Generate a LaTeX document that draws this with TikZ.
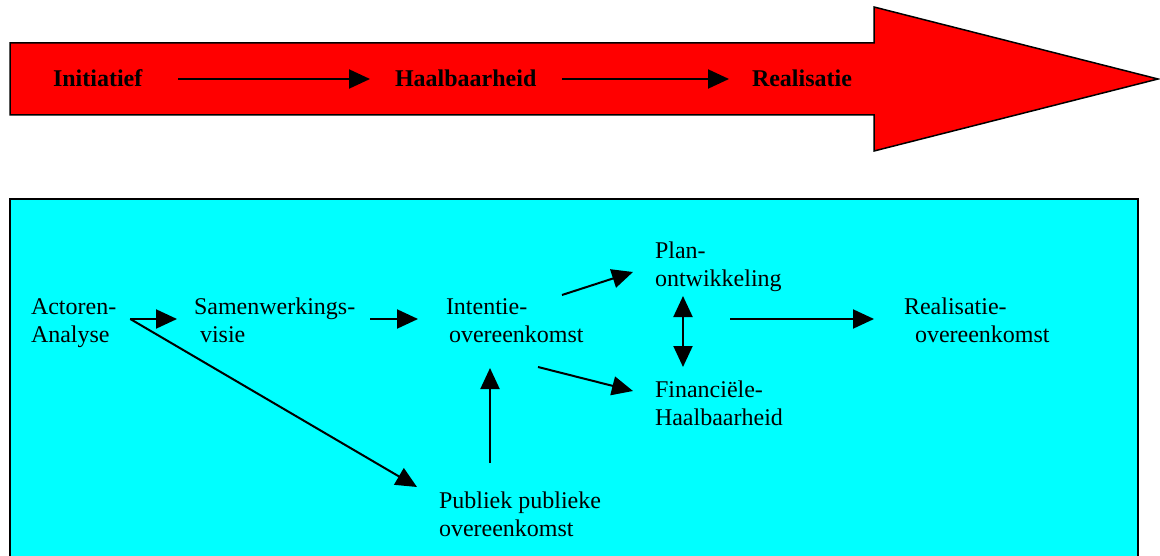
\documentclass[tikz,border=0pt]{standalone}
\usepackage{fontspec}
\setmainfont{Liberation Serif}
\usetikzlibrary{arrows.meta}
\definecolor{bandred}{HTML}{FF0000}
\definecolor{panelcyan}{HTML}{00FFFF}
\begin{document}
\begin{tikzpicture}[x=1pt,y=-1pt,
  lbl/.style={anchor=base west,inner sep=0pt,outer sep=0pt,align=left,
    font=\fontsize{24}{28}\selectfont},
  phase/.style={lbl,font=\fontsize{24}{28}\selectfont\bfseries},
  arr/.style={line width=2pt,-{Triangle[length=21pt,width=19pt]}},
  dblarr/.style={line width=2pt,{Triangle[length=21pt,width=19pt]}-{Triangle[length=21pt,width=19pt]}}]
\useasboundingbox (0,0) rectangle (1160,556);

% big red process arrow
\draw[fill=bandred,line width=1.5pt,line join=miter]
  (10,43) -- (874,43) -- (874,7) -- (1158,79) -- (874,151) -- (874,115) -- (10,115) -- cycle;

\node[phase] (init) at (53,87) {Initiatief};
\node[phase] (haal) at (395,87) {Haalbaarheid};
\node[phase] (real) at (752,87) {Realisatie};

\draw[arr] ([shift={(36,-8)}]init.base east) -- ([shift={(-25,-8)}]haal.base west);
\draw[arr] ([shift={(26,-8)}]haal.base east) -- ([shift={(-23,-8)}]real.base west);

% cyan process panel (open at the bottom)
\fill[panelcyan] (10,199) rectangle (1138,560);
\draw[line width=1.5pt] (10,560) -- (10,199) -- (1138,199) -- (1138,560);

% labels are placed by the baseline of their last line
\node[lbl] (act)  at (31,342)  {Actoren-\\Analyse};
\node[lbl] (sam)  at (194,342) {Samenwerkings-\\\hspace*{6pt}visie};
\node[lbl] (int)  at (446,342) {Intentie-\\\hspace*{3pt}overeenkomst};
\node[lbl] (plan) at (655,287) {Plan-\\ontwikkeling};
\node[lbl] (fin)  at (655,425) {Financiële-\\Haalbaarheid};
\node[lbl] (ovk)  at (904,342) {Realisatie-\\\hspace*{11pt}overeenkomst};
\node[lbl] (pub)  at (439,536) {Publiek publieke\\overeenkomst};

\coordinate (split) at ([shift={(14,-23)}]act.base east);
\draw[arr] (split) -- ([shift={(-17,-23)}]sam.base west);
\draw[arr] (split) -- ([shift={(-22,-49)}]pub.base west);
\draw[arr] ([shift={(15,-23)}]sam.base east) -- ([shift={(-28,-23)}]int.base west);
\draw[arr] ([shift={(116,-47)}]int.base west) -- ([shift={(-22,-15)}]plan.base west);
\draw[arr] ([shift={(92,25)}]int.base west) -- ([shift={(-22,-34)}]fin.base west);
\draw[arr] ([shift={(51,-73)}]pub.base west) -- ([shift={(44,26)}]int.base west);
\draw[dblarr] ([shift={(28,9)}]plan.base west) -- ([shift={(28,-58)}]fin.base west);
\draw[arr] ([shift={(75,32)}]plan.base west) -- ([shift={(-30,-23)}]ovk.base west);
\end{tikzpicture}
\end{document}
